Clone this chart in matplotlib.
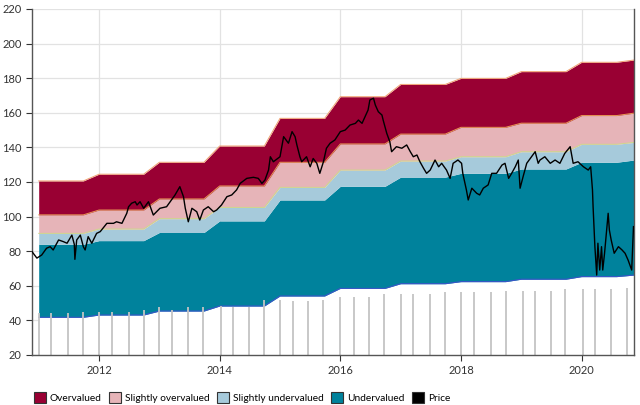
import matplotlib
matplotlib.use("Agg")
import matplotlib.pyplot as plt
from matplotlib.patches import Patch
import numpy as np

# ---------------- data ----------------
years = [2011, 2012, 2013, 2014, 2015, 2016, 2017, 2018, 2019, 2020]
end_date = 2020.87
# valuation band boundaries per year (flat level) + value at end
overvalued_top = [120.6, 124.5, 131.4, 140.8, 156.8, 169.3, 176.4, 179.9, 183.8, 189.2, 190.5]
slightly_over_top = [101.0, 103.8, 110.2, 117.7, 131.4, 142.0, 147.7, 151.6, 154.0, 158.4, 159.8]
slightly_under_top = [90.3, 92.8, 98.8, 105.3, 116.9, 126.9, 132.1, 134.6, 137.5, 141.8, 142.9]
undervalued_top = [84.0, 86.1, 90.8, 97.5, 109.6, 117.5, 122.8, 125.0, 127.5, 131.4, 132.7]
undervalued_bottom = [41.8, 43.1, 45.4, 48.3, 54.1, 58.5, 61.2, 62.4, 63.8, 65.3, 66.2]

price_dates = [2010.89, 2010.97, 2011.05, 2011.13, 2011.19, 2011.24, 2011.33, 2011.41, 2011.47, 2011.55,
               2011.59, 2011.60, 2011.63, 2011.69, 2011.74, 2011.77, 2011.82, 2011.88, 2011.96, 2012.02,
               2012.13, 2012.24, 2012.29, 2012.38, 2012.46, 2012.49, 2012.54, 2012.60, 2012.63, 2012.68,
               2012.74, 2012.82, 2012.90, 2013.01, 2013.12, 2013.18, 2013.26, 2013.34, 2013.40, 2013.43,
               2013.48, 2013.54, 2013.62, 2013.67, 2013.73, 2013.81, 2013.90, 2013.95, 2014.03, 2014.12,
               2014.20, 2014.28, 2014.34, 2014.45, 2014.56, 2014.64, 2014.70, 2014.75, 2014.81, 2014.84,
               2014.89, 2015.00, 2015.06, 2015.14, 2015.20, 2015.25, 2015.28, 2015.33, 2015.36, 2015.44,
               2015.50, 2015.55, 2015.61, 2015.66, 2015.72, 2015.77, 2015.83, 2015.91, 2016.00, 2016.08,
               2016.16, 2016.25, 2016.30, 2016.36, 2016.41, 2016.46, 2016.49, 2016.55, 2016.58, 2016.63,
               2016.69, 2016.71, 2016.77, 2016.82, 2016.85, 2016.93, 2017.02, 2017.10, 2017.16, 2017.21,
               2017.27, 2017.32, 2017.38, 2017.43, 2017.49, 2017.57, 2017.63, 2017.68, 2017.76, 2017.82,
               2017.87, 2017.95, 2018.01, 2018.03, 2018.09, 2018.12, 2018.18, 2018.26, 2018.31, 2018.37,
               2018.45, 2018.51, 2018.59, 2018.68, 2018.73, 2018.79, 2018.84, 2018.90, 2018.95, 2018.98,
               2019.03, 2019.09, 2019.17, 2019.23, 2019.28, 2019.31, 2019.39, 2019.48, 2019.56, 2019.64,
               2019.72, 2019.81, 2019.86, 2019.94, 2020.03, 2020.11, 2020.15, 2020.18, 2020.19, 2020.22,
               2020.25, 2020.27, 2020.30, 2020.33, 2020.35, 2020.38, 2020.44, 2020.46, 2020.49, 2020.54,
               2020.61, 2020.67, 2020.72, 2020.77, 2020.83, 2020.86]
price_values = [79.7, 76.0, 77.8, 81.7, 82.6, 80.7, 86.5, 85.5, 84.6, 89.3,
                84.0, 75.3, 86.5, 89.3, 82.6, 80.7, 88.4, 84.6, 90.3, 91.3,
                96.1, 96.1, 97.0, 96.1, 101.9, 105.7, 107.7, 108.6, 106.7, 108.6,
                104.8, 108.6, 100.9, 104.8, 105.7, 108.6, 112.5, 117.3, 111.5, 104.8,
                97.0, 104.8, 102.8, 98.0, 103.8, 105.7, 102.8, 103.8, 106.7, 111.5,
                112.5, 115.4, 119.2, 122.1, 122.7, 122.1, 119.2, 121.1, 126.9, 134.6,
                131.7, 134.6, 146.2, 142.4, 149.1, 146.2, 141.4, 134.6, 131.7, 134.6,
                128.8, 133.6, 130.8, 125.0, 131.7, 139.5, 142.4, 144.3, 149.1, 150.0,
                152.9, 153.9, 155.8, 153.9, 157.7, 161.6, 167.4, 168.4, 164.5, 160.6,
                158.7, 155.8, 148.1, 143.3, 137.5, 140.4, 139.5, 141.4, 137.5, 134.6,
                135.6, 131.7, 127.9, 125.0, 126.9, 132.7, 128.8, 130.8, 126.9, 122.1,
                130.8, 132.7, 130.8, 125.0, 115.4, 109.6, 116.4, 113.5, 112.5, 116.4,
                118.3, 125.0, 125.0, 129.8, 130.8, 122.1, 125.0, 128.8, 132.7, 116.4,
                123.1, 130.8, 134.6, 137.5, 130.8, 132.7, 134.6, 130.8, 132.7, 130.8,
                136.5, 140.4, 130.8, 131.7, 128.8, 126.9, 128.8, 115.4, 105.7, 82.6,
                66.2, 84.6, 69.1, 82.6, 69.1, 78.8, 101.9, 92.2, 86.5, 78.8,
                82.6, 80.7, 78.8, 74.9, 69.1, 94.2]

bar_dates = [2011.01, 2011.20, 2011.49, 2011.74, 2012.00, 2012.21, 2012.49, 2012.74,
             2013.00, 2013.21, 2013.48, 2013.73, 2014.02, 2014.22, 2014.49, 2014.73,
             2015.00, 2015.22, 2015.47, 2015.72, 2016.00, 2016.22, 2016.48, 2016.73,
             2017.01, 2017.20, 2017.48, 2017.74, 2018.00, 2018.21, 2018.49, 2018.74,
             2019.02, 2019.23, 2019.49, 2019.73, 2020.02, 2020.22, 2020.48, 2020.75]
bar_values = [44.1, 44.1, 44.1, 44.7, 44.7, 44.7, 44.7, 46.0,
              47.9, 46.0, 47.9, 47.9, 48.3, 47.9, 47.9, 51.8,
              51.8, 51.4, 51.4, 51.8, 53.7, 53.7, 53.7, 55.1,
              55.1, 55.1, 55.1, 56.2, 56.2, 56.2, 56.2, 57.2,
              57.2, 57.2, 57.2, 58.1, 58.1, 58.1, 58.1, 58.5]

x_ticks = [2012, 2014, 2016, 2018, 2020]
y_ticks = [20, 40, 60, 80, 100, 120, 140, 160, 180, 200, 220]
legend_labels = ["Overvalued", "Slightly overvalued", "Slightly undervalued", "Undervalued", "Price"]
colors = ["#990033", "#e6b4b8", "#a6cadb", "#00829c", "#000000"]

# ---------------- build band knots (flat yearly levels, ramps at year end) ----------------
def knots(vals):
    xs, ys = [], []
    for i, y in enumerate(years):
        xs += [y, y + 0.74 if y != 2020 else 2020.58]
        ys += [vals[i], vals[i]]
    xs.append(end_date)
    ys.append(vals[-1])
    return np.array(xs), np.array(ys)

bx, l4 = knots(overvalued_top)
_, l3 = knots(slightly_over_top)
_, l2 = knots(slightly_under_top)
_, l1 = knots(undervalued_top)
_, l0 = knots(undervalued_bottom)

# ---------------- plot ----------------
plt.rcParams['font.family'] = ['Lato', 'DejaVu Sans']
fig = plt.figure(figsize=(6.4, 4.05), dpi=100)
ax = fig.add_axes([0.05, 0.1235, 0.9406, 0.8543])

ax.set_xlim(2010.889, 2020.868)
ax.set_ylim(20, 220)

ax.grid(True, color="#e2e2e2", linewidth=0.9, zorder=0)
ax.set_axisbelow(True)

ax.fill_between(bx, 0, l0, color="white", linewidth=0, zorder=1)
ax.fill_between(bx, l0, l1, color=colors[3], linewidth=0, zorder=1)
ax.fill_between(bx, l1, l2, color=colors[2], linewidth=0, zorder=1)
ax.fill_between(bx, l2, l3, color=colors[1], linewidth=0, zorder=1)
ax.fill_between(bx, l3, l4, color=colors[0], linewidth=0, zorder=1)

ax.plot(bx, l4, color="#f0a070", linewidth=0.7, zorder=1.5)
ax.plot(bx, l3, color="#e89a55", linewidth=0.7, zorder=1.5)
ax.plot(bx, l2, color="#cdd88c", linewidth=0.7, zorder=1.5)
ax.plot(bx, l0, color="#3a55c8", linewidth=0.8, zorder=1.5)

ax.vlines(bar_dates, 20, bar_values, color="#c4c4c4", linewidth=1.3, zorder=2)

ax.plot(price_dates, price_values, color="black", linewidth=1.0, zorder=3)

ax.set_xticks(x_ticks)
ax.set_xticklabels([str(t) for t in x_ticks])
ax.set_yticks(y_ticks)
ax.tick_params(axis="both", labelsize=8, colors="#333333", length=4, width=0.8)

ax.spines["top"].set_visible(False)
for s in ["left", "bottom", "right"]:
    ax.spines[s].set_color("#555555")
    ax.spines[s].set_linewidth(1.0)

handles = [Patch(facecolor=c, edgecolor="#333333", linewidth=0.8) for c in colors]
fig.legend(handles, legend_labels, loc="center", bbox_to_anchor=(0.378, 0.019),
           ncol=5, frameon=False, fontsize=7.3, handlelength=1.2, handleheight=1.3,
           handletextpad=0.4, columnspacing=0.7, borderaxespad=0)

fig.savefig("out.png", dpi=100)
